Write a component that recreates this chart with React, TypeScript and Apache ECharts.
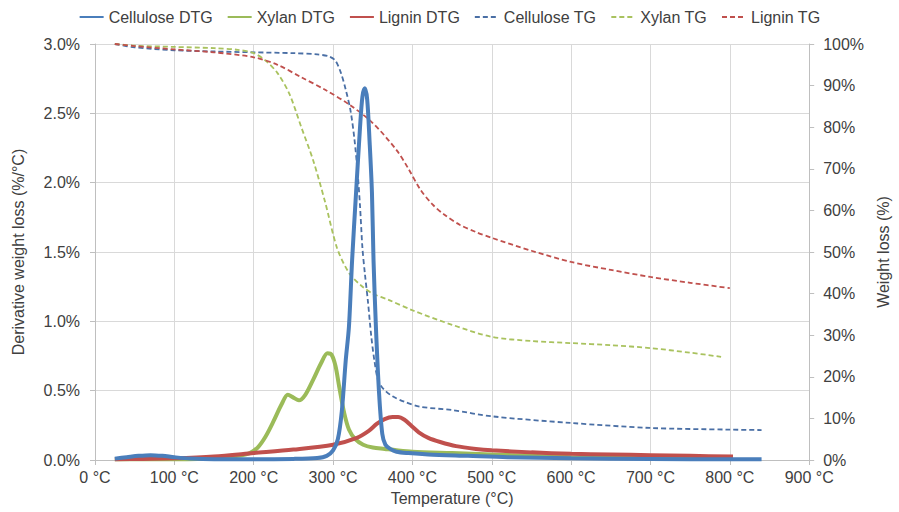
import React, { useEffect, useRef } from "react";
import * as echarts from "echarts";

const seriesNames = ["Cellulose DTG", "Xylan DTG", "Lignin DTG", "Cellulose TG", "Xylan TG", "Lignin TG"];

const celluloseDtgT = [25, 40, 55, 70, 85, 100, 120, 150, 200, 250, 280, 292, 300, 306, 311, 316, 320, 324, 329, 334, 337, 340, 343, 346, 349, 351, 354, 358, 362, 366, 372, 380, 395, 420, 470, 520, 600, 700, 800, 840];
const celluloseDtgV = [0.01, 0.02, 0.03, 0.035, 0.03, 0.02, 0.01, 0.005, 0.005, 0.008, 0.015, 0.03, 0.07, 0.15, 0.35, 0.72, 0.96, 1.44, 1.93, 2.4, 2.62, 2.68, 2.6, 2.3, 1.93, 1.44, 0.96, 0.48, 0.19, 0.11, 0.08, 0.06, 0.05, 0.04, 0.03, 0.02, 0.012, 0.008, 0.005, 0.005];

const xylanDtgT = [25, 100, 150, 180, 195, 205, 215, 225, 235, 243, 250, 257, 265, 275, 285, 293, 298, 303, 308, 314, 320, 328, 338, 350, 365, 380, 400, 450, 500, 550, 600, 700, 800];
const xylanDtgV = [0.005, 0.005, 0.01, 0.03, 0.05, 0.09, 0.17, 0.28, 0.4, 0.47, 0.45, 0.43, 0.47, 0.58, 0.7, 0.77, 0.76, 0.68, 0.52, 0.34, 0.22, 0.15, 0.11, 0.09, 0.08, 0.07, 0.06, 0.05, 0.04, 0.03, 0.02, 0.015, 0.01];

const ligninDtgT = [25, 60, 100, 150, 200, 250, 300, 330, 345, 355, 365, 375, 382, 390, 398, 408, 420, 435, 455, 480, 500, 550, 600, 650, 700, 750, 804];
const ligninDtgV = [0.005, 0.008, 0.012, 0.025, 0.05, 0.075, 0.11, 0.16, 0.21, 0.26, 0.295, 0.31, 0.31, 0.29, 0.25, 0.2, 0.16, 0.13, 0.1, 0.08, 0.07, 0.055, 0.045, 0.04, 0.035, 0.03, 0.025];

const celluloseTgT = [25, 50, 100, 150, 200, 250, 280, 295, 303, 310, 316, 322, 327, 331, 334, 337, 340, 344, 348, 352, 357, 364, 375, 390, 410, 450, 500, 600, 700, 800, 840];
const celluloseTgV = [100, 99.2, 98.5, 98.2, 98, 97.8, 97.5, 97, 96, 93, 89, 84, 77, 69, 61, 51, 45, 38, 30, 24, 19, 17, 15.3, 14, 12.8, 12, 10.5, 8.9, 7.7, 7.3, 7.2];

const xylanTgT = [25, 50, 100, 150, 180, 200, 215, 230, 245, 260, 275, 290, 305, 320, 335, 350, 370, 400, 450, 500, 550, 600, 650, 700, 750, 789];
const xylanTgV = [100, 99.6, 99.3, 99, 98.6, 97.8, 96, 93, 88, 80, 72, 62, 51, 45, 42, 40, 38.5, 36, 32.5, 29.6, 28.6, 28.1, 27.6, 26.9, 25.8, 24.8];

const ligninTgT = [25, 50, 100, 150, 200, 230, 260, 290, 320, 350, 380, 395, 410, 425, 440, 460, 480, 500, 550, 600, 650, 700, 750, 800];
const ligninTgV = [100, 99.5, 98.7, 98, 96.8, 95, 92, 89, 85.5, 81, 74.5, 70, 65, 61.5, 59, 56.5, 54.8, 53.4, 50.3, 47.6, 45.7, 44, 42.6, 41.3];

const zip = (t: number[], v: number[]) => t.map((x, i) => [x, v[i]]);

const FONT = "Liberation Sans, Arial, sans-serif";
const TEXT = "#404040";

export default function App() {
  const ref = useRef<HTMLDivElement>(null);
  useEffect(() => {
    document.body.style.margin = "0";
    if (!ref.current) return;
    const chart = echarts.init(ref.current, undefined, { renderer: "svg" });
    const solid = (name: string, color: string, t: number[], v: number[]) => ({
      name,
      type: "line",
      yAxisIndex: 0,
      data: zip(t, v),
      smooth: 0.3,
      symbol: "none",
      z: 3,
      lineStyle: { color, width: 4 },
      itemStyle: { color },
    });
    const dashed = (name: string, color: string, t: number[], v: number[]) => ({
      name,
      type: "line",
      yAxisIndex: 1,
      data: zip(t, v),
      smooth: 0.3,
      symbol: "none",
      z: 2,
      lineStyle: { color, width: 1.8, type: [5, 3] },
      itemStyle: { color },
    });
    chart.setOption({
      animation: false,
      textStyle: { fontFamily: FONT, color: TEXT },
      legend: {
        top: 4,
        left: "center",
        data: seriesNames,
        itemWidth: 24,
        itemHeight: 12,
        itemGap: 14,
        itemStyle: { opacity: 0 },
        textStyle: { fontFamily: FONT, fontSize: 16, color: TEXT },
      },
      grid: { left: 95, right: 82, top: 44, bottom: 52, containLabel: false },
      xAxis: {
        type: "value",
        min: 0,
        max: 900,
        interval: 100,
        name: "Temperature (°C)",
        nameLocation: "middle",
        nameGap: 30,
        nameTextStyle: { fontFamily: FONT, fontSize: 16, color: TEXT },
        axisLine: { show: true, lineStyle: { color: "#bfbfbf" } },
        axisTick: { show: true, length: 5, lineStyle: { color: "#bfbfbf" } },
        axisLabel: { formatter: (v: number) => `${v} °C`, fontFamily: FONT, fontSize: 16, color: TEXT, margin: 9 },
        splitLine: { show: true, lineStyle: { color: "#d9d9d9" } },
      },
      yAxis: [
        {
          type: "value",
          min: 0,
          max: 3,
          interval: 0.5,
          name: "Derivative weight loss (%/°C)",
          nameLocation: "middle",
          nameGap: 69,
          nameTextStyle: { fontFamily: FONT, fontSize: 16, color: TEXT },
          axisLine: { show: true, lineStyle: { color: "#bfbfbf" } },
          axisTick: { show: true, length: 5, lineStyle: { color: "#bfbfbf" } },
          axisLabel: { formatter: (v: number) => `${v.toFixed(1)}%`, fontFamily: FONT, fontSize: 16, color: TEXT, margin: 15 },
          splitLine: { show: true, lineStyle: { color: "#d9d9d9" } },
        },
        {
          type: "value",
          min: 0,
          max: 100,
          interval: 10,
          name: "Weight loss (%)",
          nameLocation: "middle",
          nameGap: 60,
          nameTextStyle: { fontFamily: FONT, fontSize: 16, color: TEXT },
          axisLine: { show: true, lineStyle: { color: "#bfbfbf" } },
          axisTick: { show: true, length: 5, lineStyle: { color: "#bfbfbf" } },
          axisLabel: { formatter: (v: number) => `${v}%`, fontFamily: FONT, fontSize: 16, color: TEXT, margin: 14 },
          splitLine: { show: false },
        },
      ],
      series: [
        dashed(seriesNames[3], "#4a6fa5", celluloseTgT, celluloseTgV),
        dashed(seriesNames[4], "#a9c25e", xylanTgT, xylanTgV),
        dashed(seriesNames[5], "#c0504d", ligninTgT, ligninTgV),
        solid(seriesNames[1], "#9bbb59", xylanDtgT, xylanDtgV),
        solid(seriesNames[2], "#c0504d", ligninDtgT, ligninDtgV),
        solid(seriesNames[0], "#4a7ebb", celluloseDtgT, celluloseDtgV),
      ],
    });
    return () => chart.dispose();
  }, []);
  return <div ref={ref} style={{ width: 899, height: 512 }} />;
}
